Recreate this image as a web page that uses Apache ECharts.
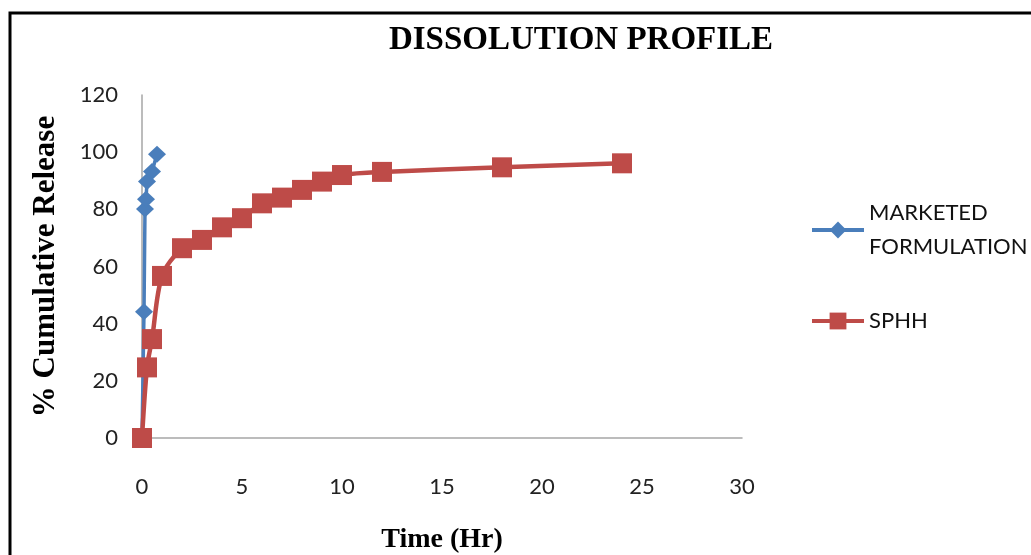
<!DOCTYPE html>
<html>
<head>
<meta charset="utf-8">
<script src="https://cdn.jsdelivr.net/npm/echarts@6/dist/echarts.min.js"></script>
<style>
html,body{margin:0;padding:0;background:#fff;}
#c{width:1031px;height:555px;}
</style>
</head>
<body>
<div id="c"></div>
<script>
const marketedTime = [0, 0.1, 0.15, 0.2, 0.25, 0.5, 0.75];
const marketedRelease = [0, 44.2, 80.1, 83.5, 89.7, 93.2, 99.3];
const sphhTime = [0, 0.25, 0.5, 1, 2, 3, 4, 5, 6, 7, 8, 9, 10, 12, 18, 24];
const sphhRelease = [0, 24.7, 34.6, 56.7, 66.4, 69.3, 73.7, 76.9, 82.1, 84.1, 86.8, 89.7, 92.0, 93.1, 94.7, 96.1];
const seriesNames = ['MARKETED\nFORMULATION', 'SPHH'];

const zip = (xs, ys) => xs.map((x, i) => [x, ys[i]]);
const chart = echarts.init(document.getElementById('c'));
const serif = '"Liberation Serif", "DejaVu Serif", serif';
const sans = 'Lato, "Liberation Sans", sans-serif';
chart.setOption({
  animation: false,
  backgroundColor: '#fff',
  title: {
    text: 'DISSOLUTION PROFILE',
    left: 576, top: 19, textAlign: 'center',
    textStyle: {fontFamily: serif, fontWeight: 'bold', fontSize: 33, color: '#000'}
  },
  legend: {
    orient: 'vertical', left: 805, top: 191, itemGap: 40,
    itemWidth: 52, itemHeight: 21,
    lineStyle: {width: 4},
    textStyle: {fontFamily: sans, fontSize: 22, color: '#111', lineHeight: 34},
    data: seriesNames
  },
  grid: {left: 142, top: 95, width: 600, height: 343, containLabel: false, outerBoundsMode: 'none'},
  xAxis: {
    type: 'value', min: 0, max: 30, interval: 5,
    name: 'Time (Hr)', nameLocation: 'middle', nameGap: 88,
    nameTextStyle: {fontFamily: serif, fontWeight: 'bold', fontSize: 28, color: '#000'},
    axisLine: {onZero: false, lineStyle: {color: '#a6a6a6', width: 1.5}},
    axisTick: {show: false},
    splitLine: {show: false},
    axisLabel: {margin: 38, fontFamily: sans, fontSize: 22, color: '#222'}
  },
  yAxis: {
    type: 'value', min: 0, max: 120, interval: 20,
    name: '% Cumulative Release', nameLocation: 'middle', nameGap: 81,
    nameTextStyle: {fontFamily: serif, fontWeight: 'bold', fontSize: 31, color: '#000'},
    axisLine: {show: true, lineStyle: {color: '#a6a6a6', width: 1.5}},
    axisTick: {show: false},
    splitLine: {show: false},
    axisLabel: {margin: 24, fontFamily: sans, fontSize: 22, color: '#222'}
  },
  series: [
    {
      name: seriesNames[0], type: 'line', data: zip(marketedTime, marketedRelease),
      symbol: 'diamond', symbolSize: [18, 17], color: '#4a7ebb',
      lineStyle: {width: 3.5, color: '#4a7ebb'}, itemStyle: {color: '#4a7ebb'}, z: 2
    },
    {
      name: seriesNames[1], type: 'line', data: zip(sphhTime, sphhRelease),
      symbol: 'rect', symbolSize: 20, color: '#be4b48',
      smooth: 0.3,
      lineStyle: {width: 4.5, color: '#be4b48'}, itemStyle: {color: '#be4b48'}, z: 3
    }
  ],
  graphic: [{
    type: 'polyline', silent: true,
    shape: {points: [[10, 560], [10, 13], [1040, 13]]},
    style: {stroke: '#000', lineWidth: 3, fill: null}
  }]
});
</script>
</body>
</html>
